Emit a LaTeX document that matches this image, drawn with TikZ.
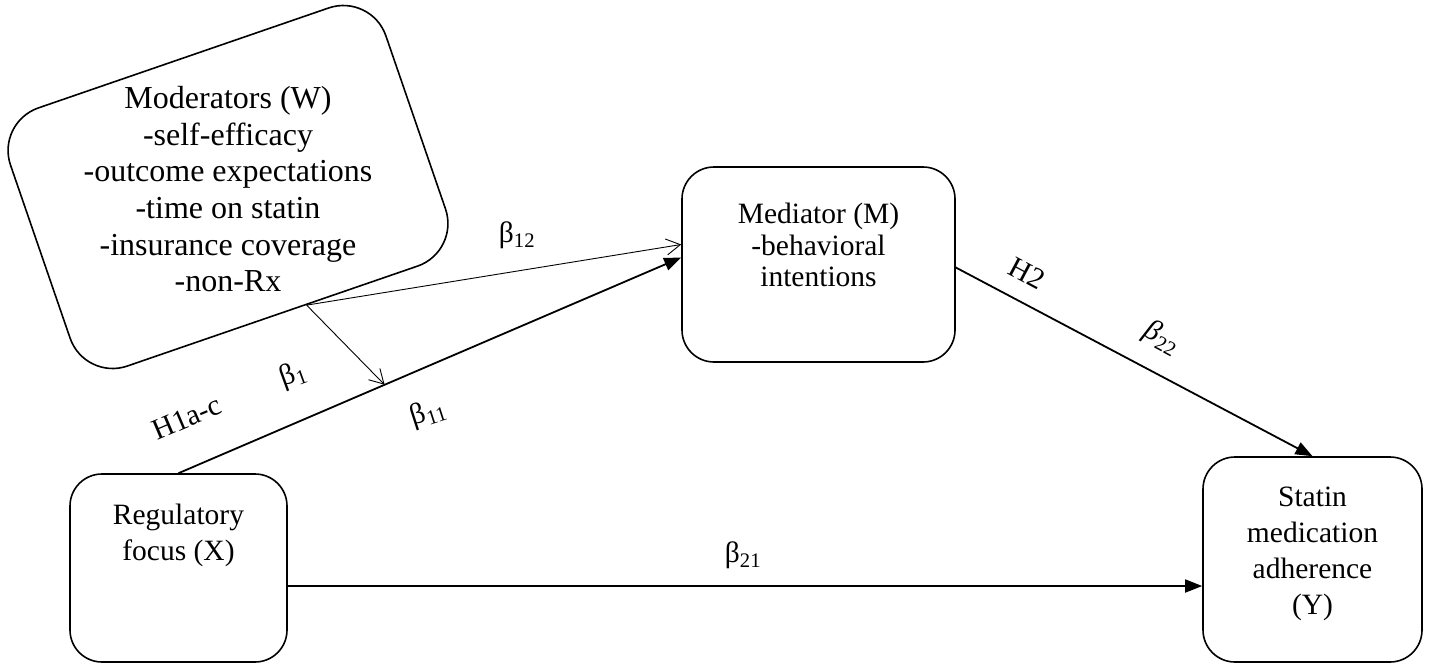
\documentclass[tikz,border=0pt]{standalone}
\usepackage{fontspec}
\setmainfont{Liberation Serif}
\usetikzlibrary{arrows.meta,calc}
\tikzset{
        box_node/.style={draw=black, line width=1.6pt, rounded corners=32pt, inner sep=0pt},
        box_text/.style={anchor=north, align=center, inner sep=0pt,
                         font=\fontsize{29.5}{36}\selectfont},
        lab_text/.style={inner sep=0pt, font=\fontsize{29.5}{36}\selectfont},
        arr_thick/.style={line width=1.8pt, -{Triangle[length=17pt,width=13pt]}},
        arr_thin/.style={line width=0.9pt, -{Straight Barb[length=14pt,width=16pt]}}
    }

\begin{document}
\begin{tikzpicture}[x=1pt, y=1pt]
    \useasboundingbox (0,0) rectangle (1429,-664);
    % boxes
    \node[box_node, rounded corners=45pt, minimum width=397pt, minimum height=273pt,
          rotate=19] (mod) at (228,-187) {};
    \node[box_text, font=\fontsize{32}{36.7}\selectfont] (mod_txt) at ($(mod.center)+(0,101)$)
        {Moderators (W)\\-self-efficacy\\-outcome expectations\\-time on statin\\-insurance coverage\\-non-Rx};
    \node[box_node, minimum width=273pt, minimum height=195pt] (med) at (818.5,-264.5) {};
    \node[box_text, font=\fontsize{29.5}{31.5}\selectfont] (med_txt) at ($(med.north)+(0,-37)$)
        {Mediator (M)\\-behavioral\\intentions};
    \node[box_node, minimum width=217pt, minimum height=188pt] (reg) at (178.5,-568) {};
    \node[box_text] (reg_txt) at ($(reg.north)+(0,-31)$) {Regulatory\\focus (X)};
    \node[box_node, minimum width=219pt, minimum height=205pt] (sta) at (1312.5,-559.5) {};
    \node[box_text] (sta_txt) at ($(sta.north)+(0,-31)$) {Statin\\medication\\adherence\\(Y)};
    % end points
    \coordinate (mod_pt) at ($(mod.south)!0.18!(mod.south east)$);
    \coordinate (med_in1) at ($(med.west)+(0,20)$);
    \coordinate (med_in2) at ($(med.west)+(0,7)$);
    \coordinate (med_out) at ($(med.east)+(0,-3)$);
    \coordinate (reg_out) at ($(reg.east)+(0,-18)$);
    \coordinate (path_pt) at ($(reg.north)!0.41!(med_in2)$);
    % connectors
    \draw[arr_thick] (reg.north) -- (med_in2);
    \draw[arr_thin] (mod_pt) -- (med_in1);
    \draw[arr_thin] (mod_pt) -- (path_pt);
    \draw[arr_thick] (med_out) -- (sta.north);
    \draw[arr_thick] (reg_out) -- (sta.west |- reg_out);
    % labels
    \node[lab_text] (b12) at (517,-235) {β\textsubscript{12}};
    \node[lab_text, rotate=20] (b1) at (293,-375) {β\textsubscript{1}};
    \node[lab_text, rotate=18] (b11) at (428,-413) {β\textsubscript{11}};
    \node[lab_text, rotate=23] (h1) at (187,-418) {H1a-c};
    \node[lab_text, rotate=-28] (h2) at (1027,-273) {H2};
    \node[lab_text, rotate=-28] (b22) at (1162,-338) {\textit{β}\textsubscript{22}};
    \node[lab_text] (b21) at (743,-555) {β\textsubscript{21}};
\end{tikzpicture}
\end{document}
